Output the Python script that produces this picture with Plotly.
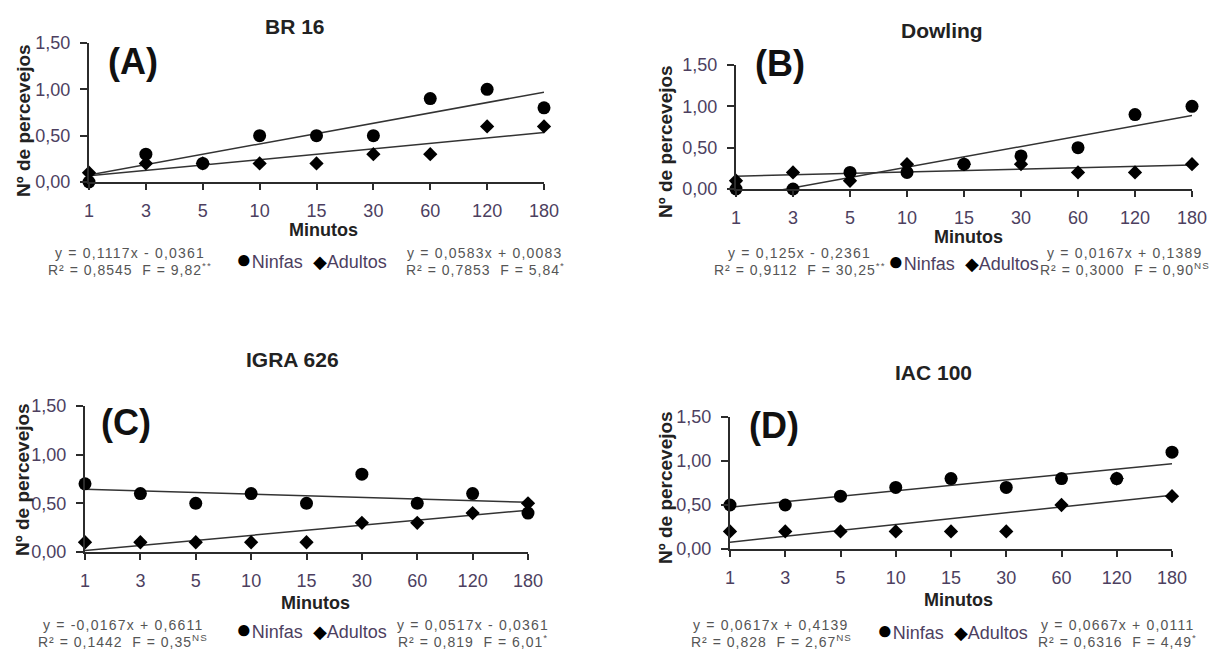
import plotly.graph_objects as go

# ---------------- data ----------------
minutos = ["1", "3", "5", "10", "15", "30", "60", "120", "180"]
posicao = [1, 2, 3, 4, 5, 6, 7, 8, 9]

titulos = ["BR 16", "Dowling", "IGRA 626", "IAC 100"]
letras = ["(A)", "(B)", "(C)", "(D)"]

ninfas_A = [0.0, 0.3, 0.2, 0.5, 0.5, 0.5, 0.9, 1.0, 0.8]
adultos_A = [0.1, 0.2, 0.2, 0.2, 0.2, 0.3, 0.3, 0.6, 0.6]
ninfas_B = [0.0, 0.0, 0.2, 0.2, 0.3, 0.4, 0.5, 0.9, 1.0]
adultos_B = [0.1, 0.2, 0.1, 0.3, 0.3, 0.3, 0.2, 0.2, 0.3]
ninfas_C = [0.7, 0.6, 0.5, 0.6, 0.5, 0.8, 0.5, 0.6, 0.4]
adultos_C = [0.1, 0.1, 0.1, 0.1, 0.1, 0.3, 0.3, 0.4, 0.5]
ninfas_D = [0.5, 0.5, 0.6, 0.7, 0.8, 0.7, 0.8, 0.8, 1.1]
adultos_D = [0.2, 0.2, 0.2, 0.2, 0.2, 0.2, 0.5, 0.8, 0.6]

ninfas = [ninfas_A, ninfas_B, ninfas_C, ninfas_D]
adultos = [adultos_A, adultos_B, adultos_C, adultos_D]

# regression coefficients (slope, intercept) as printed
coef_ninfas = [(0.1117, -0.0361), (0.125, -0.2361), (-0.0167, 0.6611), (0.0617, 0.4139)]
coef_adultos = [(0.0583, 0.0083), (0.0167, 0.1389), (0.0517, -0.0361), (0.0667, 0.0111)]

eq_ninfas = [
    ("y = 0,1117x - 0,0361", "R² = 0,8545  F = 9,82<sup>**</sup>"),
    ("y = 0,125x - 0,2361", "R² = 0,9112  F = 30,25<sup>**</sup>"),
    ("y = -0,0167x + 0,6611", "R² = 0,1442  F = 0,35<sup>NS</sup>"),
    ("y = 0,0617x + 0,4139", "R² = 0,828  F = 2,67<sup>NS</sup>"),
]
eq_adultos = [
    ("y = 0,0583x + 0,0083", "R² = 0,7853  F = 5,84<sup>*</sup>"),
    ("y = 0,0167x + 0,1389", "R² = 0,3000  F = 0,90<sup>NS</sup>"),
    ("y = 0,0517x - 0,0361", "R² = 0,819  F = 6,01<sup>*</sup>"),
    ("y = 0,0667x + 0,0111", "R² = 0,6316  F = 4,49<sup>*</sup>"),
]

y_ticks = [0, 0.5, 1.0, 1.5]
y_ticktext = ["0,00", "0,50", "1,00", "1,50"]

# ---------------- layout geometry (page pixels) ----------------
PAGE_W, PAGE_H = 1222, 651
OFF = 8  # default body margin of the html page
W, H = PAGE_W - OFF, PAGE_H - OFF

# (x_left, x_right, y_bottom, y_top) of each plot area
areas = [
    (89, 544, 182, 43),
    (736, 1192, 189, 65),
    (85, 528, 552, 406),
    (730, 1172, 549, 417),
]
title_pos = [(295, 26), (942, 30), (292, 359), (933, 372)]
letter_pos = [(133, 61), (780, 63), (126, 423), (774, 425)]
ylab_pos = [(24, 121), (665, 142), (22, 480), (665, 488)]
minutos_pos = [(323, 230), (968, 237), (315, 603), (958, 600)]
eqL_pos = [(130, 253, 269), (800, 253, 269), (123, 625, 641), (771, 625, 641)]
eqR_pos = [(485, 253, 269), (1125, 253, 269), (473, 625, 641), (1117, 625, 641)]
leg_pos = [(311, 259), (963, 261), (311, 629), (952, 630)]

FONT = "Liberation Sans"
tick_color = "#4d3f5f"
line_color = "#2b2b2b"


def px(x):
    return (x - OFF) / W


def py(y):
    return 1 - (y - OFF) / H


def note(text, x, y, size, color, angle=0):
    return dict(text=text, x=px(x), y=py(y), xref="paper", yref="paper",
                xanchor="center", yanchor="middle", showarrow=False, textangle=angle,
                font=dict(family=FONT, size=size, color=color))


def spaced(t, ls):
    return "<span style='letter-spacing:%.1fpx'>" % ls + t + "</span>"


fig = go.Figure()
annotations = []
for i in range(4):
    xl, xr, yb, yt = areas[i]
    sfx = "" if i == 0 else str(i + 1)
    xa, ya = "x" + sfx, "y" + sfx

    # regression lines
    sn, bn = coef_ninfas[i]
    sa, ba = coef_adultos[i]
    fig.add_trace(go.Scatter(x=[posicao[0], posicao[-1]],
                             y=[sn * posicao[0] + bn, sn * posicao[-1] + bn],
                             mode="lines", line=dict(color="#333333", width=1.5),
                             xaxis=xa, yaxis=ya, showlegend=False, hoverinfo="skip"))
    fig.add_trace(go.Scatter(x=[posicao[0], posicao[-1]],
                             y=[sa * posicao[0] + ba, sa * posicao[-1] + ba],
                             mode="lines", line=dict(color="#333333", width=1.5),
                             xaxis=xa, yaxis=ya, showlegend=False, hoverinfo="skip"))
    # points
    fig.add_trace(go.Scatter(x=posicao, y=adultos[i], mode="markers", name="Adultos",
                             marker=dict(symbol="diamond", size=11, color="black"),
                             cliponaxis=False, xaxis=xa, yaxis=ya, showlegend=False))
    fig.add_trace(go.Scatter(x=posicao, y=ninfas[i], mode="markers", name="Ninfas",
                             marker=dict(symbol="circle", size=13, color="black"),
                             cliponaxis=False, xaxis=xa, yaxis=ya, showlegend=False))

    xaxis = dict(domain=[px(xl), px(xr)], anchor=ya, range=[1, 9], automargin=False,
                 tickmode="array", tickvals=posicao, ticktext=minutos,
                 showgrid=False, zeroline=False, showline=True, linecolor=line_color,
                 linewidth=2, ticks="outside", ticklen=6, tickwidth=2, tickcolor=line_color,
                 ticklabelstandoff=5,
                 tickfont=dict(family=FONT, size=18, color=tick_color),
                 fixedrange=True)
    yaxis = dict(domain=[py(yb), py(yt)], anchor=xa, range=[0, 1.5], automargin=False,
                 tickmode="array", tickvals=y_ticks, ticktext=y_ticktext,
                 showgrid=False, zeroline=False, showline=True, linecolor=line_color,
                 linewidth=2, ticks="outside", ticklen=7, tickwidth=2, tickcolor=line_color,
                 ticklabelstandoff=6,
                 tickfont=dict(family=FONT, size=18, color=tick_color),
                 fixedrange=True)
    fig.update_layout(**{"xaxis" + sfx: xaxis, "yaxis" + sfx: yaxis})

    tx, ty = title_pos[i]
    annotations.append(note("<b>" + titulos[i] + "</b>", tx, ty, 21, "#222222"))
    lx, ly = letter_pos[i]
    annotations.append(note("<b>" + letras[i] + "</b>", lx, ly, 36, "#111111"))
    yx, yy = ylab_pos[i]
    annotations.append(note("<b>Nº de percevejos</b>", yx, yy, 19, "#222222", angle=-90))
    mx, my = minutos_pos[i]
    annotations.append(note("<b>Minutos</b>", mx, my, 18, "#222222"))
    ex, ey1, ey2 = eqL_pos[i]
    annotations.append(note(spaced(eq_ninfas[i][0], 1.2), ex, ey1, 14, "#555555"))
    annotations.append(note(spaced(eq_ninfas[i][1], 1.0), ex, ey2, 14, "#555555"))
    ex, ey1, ey2 = eqR_pos[i]
    annotations.append(note(spaced(eq_adultos[i][0], 1.2), ex, ey1, 14, "#555555"))
    annotations.append(note(spaced(eq_adultos[i][1], 1.0), ex, ey2, 14, "#555555"))
    gx, gy = leg_pos[i]
    annotations.append(note("<span style='color:#000000;font-size:26px'>●</span>Ninfas  "
                            "<span style='color:#000000'>◆</span>Adultos",
                            gx, gy, 18, tick_color))

fig.update_layout(width=W, height=H, margin=dict(l=0, r=0, t=0, b=0),
                  paper_bgcolor="white", plot_bgcolor="white",
                  showlegend=False, annotations=annotations)

fig.write_html("out.html")
